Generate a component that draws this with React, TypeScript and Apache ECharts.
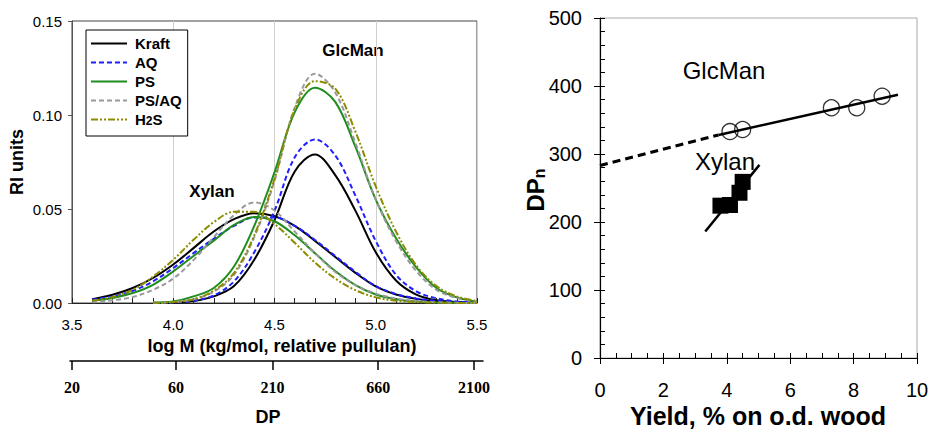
import React, { useEffect, useRef } from 'react';
import * as echarts from 'echarts';

// ---------- Left panel: SEC distributions (RI units vs log M) ----------
const logM = [3.6, 3.7, 3.8, 3.9, 4.0, 4.1, 4.2, 4.3, 4.4, 4.5, 4.6, 4.7, 4.8, 4.9, 5.0, 5.1, 5.2, 5.3, 5.4, 5.5];

const kraftXylan = [0.0020, 0.0044, 0.0080, 0.0133, 0.0205, 0.0292, 0.0380, 0.0446, 0.0478, 0.0462, 0.0410, 0.0330, 0.0245, 0.0160, 0.0088, 0.0045, 0.0022, 0.0010, 0.0004, 0.0001];
const aqXylan = [0.0018, 0.0035, 0.0065, 0.0115, 0.0186, 0.0265, 0.0342, 0.0410, 0.0455, 0.0455, 0.0410, 0.0335, 0.0250, 0.0165, 0.0090, 0.0048, 0.0024, 0.0011, 0.0005, 0.0001];
const psXylan = [0.0012, 0.0027, 0.0053, 0.0097, 0.0168, 0.0250, 0.0332, 0.0415, 0.0458, 0.0435, 0.0360, 0.0265, 0.0170, 0.0095, 0.0045, 0.0020, 0.0008, 0.0003, 0.0001, 0];
const psaqXylan = [0.0004, 0.0014, 0.0032, 0.0070, 0.0130, 0.0228, 0.0350, 0.0468, 0.0535, 0.0492, 0.0380, 0.0265, 0.0165, 0.0095, 0.0050, 0.0024, 0.0010, 0.0004, 0.0001, 0];
const h2sXylan = [0.0012, 0.0032, 0.0070, 0.0140, 0.0230, 0.0336, 0.0430, 0.0485, 0.0485, 0.0420, 0.0320, 0.0215, 0.0130, 0.0068, 0.0030, 0.0012, 0.0005, 0.0002, 0, 0];

const kraftGlcMan = [null, null, null, 0, 0.0003, 0.0010, 0.0035, 0.0090, 0.0230, 0.0440, 0.0700, 0.0790, 0.0680, 0.0490, 0.0270, 0.0120, 0.0045, 0.0015, 0.0005, 0.0001];
const aqGlcMan = [null, null, null, 0, 0.0003, 0.0012, 0.0040, 0.0115, 0.0270, 0.0490, 0.0775, 0.0870, 0.0785, 0.0570, 0.0330, 0.0150, 0.0062, 0.0025, 0.0008, 0.0002];
const psGlcMan = [null, null, null, 0.0002, 0.0008, 0.0035, 0.0080, 0.0194, 0.0410, 0.0695, 0.1015, 0.1145, 0.1070, 0.0830, 0.0550, 0.0345, 0.0190, 0.0080, 0.0030, 0.0008];
const psaqGlcMan = [null, null, null, 0.0001, 0.0005, 0.0020, 0.0060, 0.0150, 0.0350, 0.0650, 0.1040, 0.1220, 0.1120, 0.0850, 0.0550, 0.0330, 0.0170, 0.0070, 0.0027, 0.0007];
const h2sGlcMan = [null, null, null, 0.0001, 0.0005, 0.0020, 0.0065, 0.0160, 0.0360, 0.0660, 0.1030, 0.1180, 0.1140, 0.0910, 0.0620, 0.0380, 0.0200, 0.0090, 0.0035, 0.0010];

const methods = ['Kraft', 'AQ', 'PS', 'PS/AQ', 'H2S'];
const xylanCurves = [kraftXylan, aqXylan, psXylan, psaqXylan, h2sXylan];
const glcManCurves = [kraftGlcMan, aqGlcMan, psGlcMan, psaqGlcMan, h2sGlcMan];

// secondary DP scale (tick position on the log M scale, and its DP label)
const dpTickLogM = [3.5, 4.013, 4.49, 5.012, 5.486];
const dpTickLabels = ['20', '60', '210', '660', '2100'];

// ---------- Right panel: DPn vs yield ----------
const glcManYield = [4.1, 4.5, 7.3, 8.1, 8.9];
const glcManDPn = [333, 336, 368, 368, 385];
const xylanYield = [3.8, 4.1, 4.4, 4.5];
const xylanDPn = [224, 225, 243, 259];
const glcManFitX = [3.74, 9.4];
const glcManFitY = [328, 387];
const glcManExtrapX = [0, 3.74];
const glcManExtrapY = [283, 328];
const xylanFitX = [3.32, 5.03];
const xylanFitY = [186, 284];

// ---------- styles ----------
const SANS = 'Arial, "Liberation Sans", Helvetica, sans-serif';
const SERIF = '"Times New Roman", "Liberation Serif", serif';
const methodColors = ['#000000', '#1f1fff', '#1e8c1e', '#999999', '#8c8c00'];
const methodDash: any[] = ['solid', [5, 3], 'solid', [5, 3], [7, 2, 2, 2, 2, 2]];

function pairs(xs: number[], ys: (number | null)[]) {
  return xs.map((x, i) => [x, ys[i]]);
}

const centered = { align: 'center', verticalAlign: 'middle', textAlign: 'center', textVerticalAlign: 'middle' };

export default function App() {
  const ref = useRef<HTMLDivElement>(null);

  useEffect(() => {
    if (!ref.current) return;
    const chart = echarts.init(ref.current, undefined, { renderer: 'svg' });

    const curveSeries: any[] = [];
    methods.forEach((m, i) => {
      [glcManCurves[i], xylanCurves[i]].forEach((vals) => {
        curveSeries.push({
          type: 'line',
          name: m,
          xAxisIndex: 0,
          yAxisIndex: 0,
          data: pairs(logM, vals),
          smooth: 0.35,
          symbol: 'none',
          lineStyle: { color: methodColors[i], width: 2, type: methodDash[i] },
          itemStyle: { color: methodColors[i] },
        });
      });
    });

    const option: any = {
      animation: false,
      backgroundColor: '#ffffff',
      textStyle: { fontFamily: SANS },
      grid: [
        { left: 72, top: 21, right: 455, bottom: 129, show: true, borderColor: '#444', borderWidth: 1, outerBoundsMode: 'none' },
        { left: 70, right: 449, top: 360, height: 1, outerBoundsMode: 'none' },
        { left: 600, top: 18, right: 15, bottom: 74, show: true, borderColor: '#aaaaaa', borderWidth: 1, outerBoundsMode: 'none' },
      ],
      legend: {
        data: methods,
        orient: 'vertical',
        left: 86,
        top: 30,
        padding: [6, 6, 9, 4],
        itemWidth: 36,
        itemHeight: 14,
        itemGap: 4,
        borderColor: '#000',
        borderWidth: 1,
        backgroundColor: '#fff',
        selectedMode: false,
        itemStyle: { opacity: 0 },
        formatter: (name: string) => (name === 'H2S' ? '{h|H}{s|2}{u|S}' : '{t|' + name + '}'),
        textStyle: {
          color: '#000',
          rich: {
            t: { fontSize: 15, fontWeight: 'bold', fontFamily: SANS, color: '#000', lineHeight: 15, padding: [0, 0, 0, 3] },
            h: { fontSize: 15, fontWeight: 'bold', fontFamily: SANS, color: '#000', lineHeight: 15, padding: [0, 0, 0, 3] },
            u: { fontSize: 15, fontWeight: 'bold', fontFamily: SANS, color: '#000', lineHeight: 15 },
            s: { fontSize: 12, fontWeight: 'bold', fontFamily: SANS, color: '#000', lineHeight: 3, verticalAlign: 'bottom' },
          },
        },
      },
      xAxis: [
        {
          gridIndex: 0, type: 'value', min: 3.5, max: 5.5, interval: 0.5,
          axisLine: { lineStyle: { color: '#222', width: 1 } },
          axisTick: { inside: true, length: 5, lineStyle: { color: '#222' } },
          minorTick: { show: true, splitNumber: 5, length: 5, lineStyle: { color: '#222' } },
          splitLine: { show: true, lineStyle: { color: '#cfcfcf', width: 1 } },
          axisLabel: { fontSize: 15, margin: 14, color: '#000', fontFamily: SANS, formatter: (v: number) => v.toFixed(1) },
        },
        {
          gridIndex: 1, type: 'value', min: 3.49, max: 5.53, position: 'bottom',
          axisLine: { show: true, lineStyle: { color: '#000', width: 1.5 } },
          axisTick: { show: true, inside: false, length: 9, customValues: dpTickLogM, lineStyle: { color: '#000', width: 1.5 } },
          splitLine: { show: false },
          axisLabel: {
            customValues: dpTickLogM, fontSize: 16, fontWeight: 'bold', fontFamily: SERIF, color: '#000', margin: 18,
            formatter: (v: number) => {
              const i = dpTickLogM.findIndex((p) => Math.abs(p - v) < 1e-6);
              return i >= 0 ? dpTickLabels[i] : '';
            },
          },
        },
        {
          gridIndex: 2, type: 'value', min: 0, max: 10, interval: 2,
          axisLine: { lineStyle: { color: '#000', width: 1.2 } },
          axisTick: { inside: true, length: 5, lineStyle: { color: '#000' } },
          minorTick: { show: true, splitNumber: 4, length: 5, lineStyle: { color: '#000' } },
          splitLine: { show: false },
          axisLabel: { fontSize: 20, margin: 22, color: '#000', fontFamily: SANS },
        },
        {
          gridIndex: 2, type: 'value', min: 0, max: 10, interval: 2, position: 'bottom',
          axisLine: { show: false },
          axisTick: { inside: false, length: 6, lineStyle: { color: '#000' } },
          splitLine: { show: false },
          axisLabel: { show: false },
        },
      ],
      yAxis: [
        {
          gridIndex: 0, type: 'value', min: 0, max: 0.15, interval: 0.05,
          axisLine: { show: true, lineStyle: { color: '#555', width: 1 } },
          axisTick: { show: true, inside: false, length: 4, lineStyle: { color: '#555' } },
          splitLine: { show: false },
          axisLabel: { fontSize: 15, margin: 10, color: '#000', fontFamily: SANS, formatter: (v: number) => v.toFixed(2) },
        },
        { gridIndex: 1, type: 'value', show: false, min: 0, max: 1 },
        {
          gridIndex: 2, type: 'value', min: 0, max: 500, interval: 100,
          axisLine: { show: true, lineStyle: { color: '#000', width: 1.2 } },
          axisTick: { show: true, inside: true, length: 5, lineStyle: { color: '#000' } },
          minorTick: { show: true, splitNumber: 5, length: 5, lineStyle: { color: '#000' } },
          splitLine: { show: false },
          axisLabel: { fontSize: 20, margin: 18, color: '#000', fontFamily: SANS },
        },
        {
          gridIndex: 2, type: 'value', min: 0, max: 500, interval: 100, position: 'left',
          axisLine: { show: false },
          axisTick: { show: true, inside: false, length: 6, lineStyle: { color: '#000' } },
          splitLine: { show: false },
          axisLabel: { show: false },
        },
      ],
      series: [
        ...curveSeries,
        {
          type: 'line', xAxisIndex: 2, yAxisIndex: 2, symbol: 'none', silent: true,
          data: pairs(glcManExtrapX, glcManExtrapY),
          lineStyle: { color: '#000', width: 3, type: [8, 5] },
        },
        {
          type: 'line', xAxisIndex: 2, yAxisIndex: 2, symbol: 'none', silent: true,
          data: pairs(glcManFitX, glcManFitY),
          lineStyle: { color: '#000', width: 2.5 },
        },
        {
          type: 'line', xAxisIndex: 2, yAxisIndex: 2, symbol: 'none', silent: true,
          data: pairs(xylanFitX, xylanFitY),
          lineStyle: { color: '#000', width: 2.5 },
        },
        {
          type: 'scatter', xAxisIndex: 2, yAxisIndex: 2, symbol: 'circle', symbolSize: 16,
          data: pairs(glcManYield, glcManDPn),
          itemStyle: { color: 'rgba(255,255,255,0)', borderColor: '#000', borderWidth: 1.3 },
        },
        {
          type: 'scatter', xAxisIndex: 2, yAxisIndex: 2, symbol: 'rect', symbolSize: 16,
          data: pairs(xylanYield, xylanDPn),
          itemStyle: { color: '#000', opacity: 1 },
        },
      ],
      graphic: [
        { type: 'text', x: 353, y: 50, style: { text: 'GlcMan', fontSize: 17, fontWeight: 'bold', fontFamily: SANS, fill: '#000', ...centered } },
        { type: 'text', x: 212, y: 191, style: { text: 'Xylan', fontSize: 17, fontWeight: 'bold', fontFamily: SANS, fill: '#000', ...centered } },
        { type: 'text', x: 282, y: 346, style: { text: 'log M (kg/mol, relative pullulan)', fontSize: 18, fontWeight: 'bold', fontFamily: SANS, fill: '#000', ...centered } },
        { type: 'text', x: 268, y: 417, style: { text: 'DP', fontSize: 18, fontWeight: 'bold', fontFamily: SANS, fill: '#000', ...centered } },
        { type: 'text', x: 17, y: 162, rotation: Math.PI / 2, style: { text: 'RI units', fontSize: 18, fontWeight: 'bold', fontFamily: SANS, fill: '#000', ...centered } },
        { type: 'text', x: 724, y: 70, style: { text: 'GlcMan', fontSize: 24, fontFamily: SANS, fill: '#000', ...centered } },
        { type: 'text', x: 725, y: 161, style: { text: 'Xylan', fontSize: 24, fontFamily: SANS, fill: '#000', ...centered } },
        { type: 'text', x: 758, y: 416, style: { text: 'Yield, % on o.d. wood', fontSize: 25, fontWeight: 'bold', fontFamily: SANS, fill: '#000', ...centered } },
        {
          type: 'text', x: 535, y: 190, rotation: Math.PI / 2,
          style: {
            text: '{a|DP}{s|n}', fill: '#000', ...centered,
            rich: {
              a: { fontSize: 24, fontWeight: 'bold', fontFamily: SANS, fill: '#000', lineHeight: 24 },
              s: { fontSize: 16, fontWeight: 'bold', fontFamily: SANS, fill: '#000', lineHeight: 8, verticalAlign: 'bottom' },
            },
          },
        },
      ],
    };

    chart.setOption(option);
    return () => chart.dispose();
  }, []);

  return (
    <div
      ref={ref}
      style={{ position: 'fixed', left: 0, top: 0, width: 932, height: 432, background: '#fff' }}
    />
  );
}
